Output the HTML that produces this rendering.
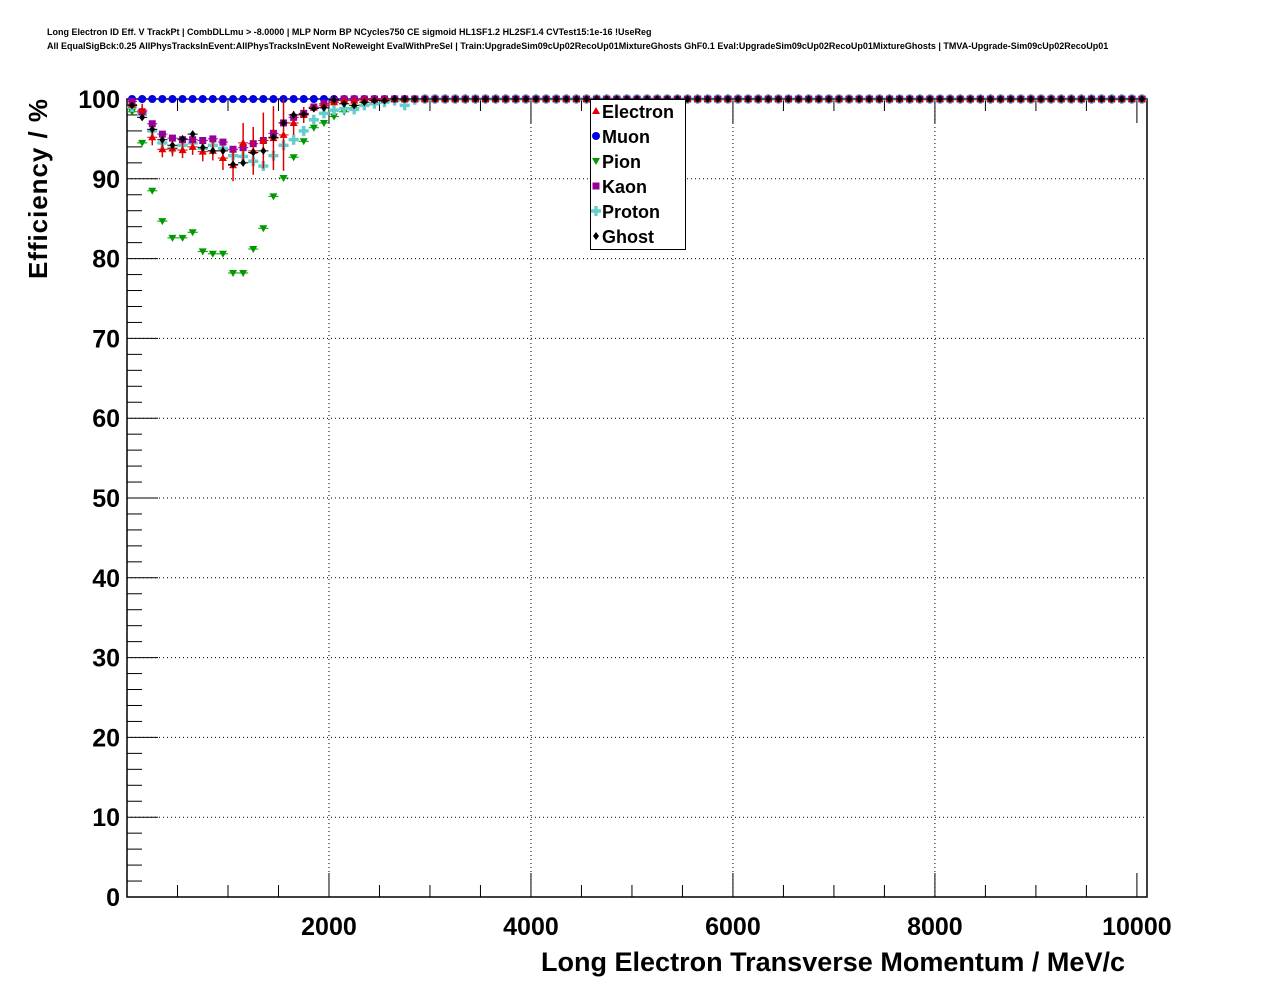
<!DOCTYPE html>
<html><head><meta charset="utf-8"><style>
body{margin:0;background:#fff;}
svg{display:block;font-family:"Liberation Sans",sans-serif;}
</style></head><body>
<svg id="c" width="1276" height="996">
<text x="47" y="35" font-size="9" font-weight="bold">Long Electron ID Eff. V TrackPt | CombDLLmu &gt; -8.0000 | MLP Norm BP NCycles750 CE sigmoid HL1SF1.2 HL2SF1.4 CVTest15:1e-16 !UseReg</text>
<text x="47" y="49" font-size="9" font-weight="bold">All EqualSigBck:0.25 AllPhysTracksInEvent:AllPhysTracksInEvent NoReweight EvalWithPreSel | Train:UpgradeSim09cUp02RecoUp01MixtureGhosts GhF0.1 Eval:UpgradeSim09cUp02RecoUp01MixtureGhosts | TMVA-Upgrade-Sim09cUp02RecoUp01</text>
<g id="grid"></g>
<g id="axes"></g>
<g id="marks"></g>
<text transform="translate(47,279) rotate(-90)" font-size="26" font-weight="bold" textLength="180">Efficiency / %</text>
<text x="1125" y="971" font-size="27" font-weight="bold" text-anchor="end" textLength="584">Long Electron Transverse Momentum / MeV/c</text>
<g>
<rect x="590.5" y="99.5" width="95" height="150" fill="#fff" stroke="#000"/>
<g id="leg"></g>
</g>
</svg>
<script>
const xTicks=[2000,4000,6000,8000,10000];
const yTicks=[0,10,20,30,40,50,60,70,80,90,100];
const names=["Electron","Muon","Pion","Kaon","Proton","Ghost"];
const electron=[99.3,98.6,95.2,93.7,93.8,93.6,94.0,93.4,93.5,92.6,91.7,94.5,93.5,94.8,95.1,95.5,97.0,98.0,98.9,99.2,99.6,99.8,99.8,99.9,99.9,100,100,100,100,100,100,100,100,100,100,100,100,100,100,100,100,100,100,100,100,100,100,100,100,100,100,100,100,100,100,100,100,100,100,100,100,100,100,100,100,100,100,100,100,100,100,100,100,100,100,100,100,100,100,100,100,100,100,100,100,100,100,100,100,100,100,100,100,100,100,100,100,100,100,100,100];
const electronErr=[0.5,0.8,1,1,1,1,1,1.2,1.2,1.5,2,2.5,3,3.5,4,4.5,1.5,1,0.5,0.5];
const muon=[100,100,100,100,100,100,100,100,100,100,100,100,100,100,100,100,100,100,100,100,100,100,100,100,100,100,100,100,100,100,100,100,100,100,100,100,100,100,100,100,100,100,100,100,100,100,100,100,100,100,100,100,100,100,100,100,100,100,100,100,100,100,100,100,100,100,100,100,100,100,100,100,100,100,100,100,100,100,100,100,100,100,100,100,100,100,100,100,100,100,100,100,100,100,100,100,100,100,100,100,100];
const pion=[98.4,94.5,88.5,84.7,82.6,82.6,83.3,80.9,80.6,80.6,78.2,78.2,81.2,83.8,87.8,90.1,92.7,94.7,96.4,97.0,97.8,98.4,98.9,99.3,99.5,99.7,99.8,99.8,99.9,99.9,100,100,100,100,100,100,100,100,100,100,100,100,100,100,100,100,100,100,100,100,100,100,100,100,100,100,100,100,100,100,100,100,100,100,100,100,100,100,100,100,100,100,100,100,100,100,100,100,100,100,100,100,100,100,100,100,100,100,100,100,100,100,100,100,100,100,100,100,100,100,100];
const kaon=[99.7,98.4,96.9,95.6,95.1,94.9,94.9,94.8,95.0,94.6,93.7,93.9,94.4,94.8,95.7,97.0,97.7,98.2,99.0,99.4,99.8,100,100,100,100,100,100,100,100,100,100,100,100,100,100,100,100,100,100,100,100,100,100,100,100,100,100,100,100,100,100,100,100,100,100,100,100,100,100,100,100,100,100,100,100,100,100,100,100,100,100,100,100,100,100,100,100,100,100,100,100,100,100,100,100,100,100,100,100,100,100,100,100,100,100,100,100,100,100,100,100];
const proton=[99.0,98.1,96.0,94.5,93.8,94.2,94.5,93.8,94.2,93.8,92.9,92.8,92.2,91.6,92.9,94.2,94.9,96.0,97.4,98.2,98.6,98.8,98.7,99.2,99.4,99.6,99.8,99.2,99.9,100,100,100,100,100,100,100,100,100,100,100,100,100,100,100,100,100,100,100,100,100,100,100,100,100,100,100,100,100,100,100,100,100,100,100,100,100,100,100,100,100,100,100,100,100,100,100,100,100,100,100,100,100,100,100,100,100,100,100,100,100,100,100,100,100,100,100,100,100,100,100,100];
const ghost=[99.2,97.7,96.2,94.9,94.2,95.0,95.6,93.9,93.5,93.5,91.8,92.0,93.3,93.5,95.2,97.0,98.0,98.1,98.8,98.9,99.9,99.4,99.2,99.6,99.8,99.8,100,100,100,100,100,100,100,100,100,100,100,100,100,100,100,100,100,100,100,100,100,100,100,100,100,100,100,100,100,100,100,100,100,100,100,100,100,100,100,100,100,100,100,100,100,100,100,100,100,100,100,100,100,100,100,100,100,100,100,100,100,100,100,100,100,100,100,100,100,100,100,100,100,100,100];
const binWidth=100;
const L=127,R=1147,T=99,B=897,XMAX=10100;
const X=v=>L+(v/XMAX)*(R-L);
const Y=v=>B-(v/100)*(B-T);
const NS="http://www.w3.org/2000/svg";
function mk(tag,attrs,parent){const e=document.createElementNS(NS,tag);for(const k in attrs)e.setAttribute(k,attrs[k]);parent.appendChild(e);return e;}
const grid=document.getElementById('grid'),axes=document.getElementById('axes'),marks=document.getElementById('marks'),leg=document.getElementById('leg');
xTicks.forEach(t=>{if(t>=10000)return;const l=mk('line',{x1:X(t),x2:X(t),y1:T,y2:B,stroke:'#000','stroke-dasharray':'1,3'},grid);
});
yTicks.forEach(t=>{if(t===0||t===100)return;const l=mk('line',{x1:L,x2:R,y1:Y(t),y2:Y(t),stroke:'#000','stroke-dasharray':'1,3'},grid);
});
mk('rect',{x:L,y:T,width:R-L,height:B-T,fill:'none',stroke:'#000','stroke-width':1.5},axes);
for(let v=500;v<XMAX;v+=500){const maj=v%2000===0;const len=maj?24:12;
mk('line',{x1:X(v),x2:X(v),y1:B,y2:B-len,stroke:'#000'},axes);mk('line',{x1:X(v),x2:X(v),y1:T,y2:T+len,stroke:'#000'},axes);}
for(let v=2;v<100;v+=2){const maj=v%10===0;const len=maj?31:15;
mk('line',{x1:L,x2:L+len,y1:Y(v),y2:Y(v),stroke:'#000'},axes);}
xTicks.forEach(t=>{const e=mk('text',{x:X(t),y:935,'font-size':25,'font-weight':'bold','text-anchor':'middle'},axes);e.textContent=t;
});
yTicks.forEach(t=>{const e=mk('text',{x:120,y:Y(t)+9,'font-size':25,'font-weight':'bold','text-anchor':'end'},axes);e.textContent=t;
});
const colors=["#e00000","#0000e0","#009900","#990099","#66cccc","#000000"];
function marker(type,x,y,c,p){
 if(type===0)return mk('polygon',{points:`${x},${y-4} ${x-4},${y+3} ${x+4},${y+3}`,fill:c},p);
 if(type===1)return mk('circle',{cx:x,cy:y,r:4,fill:c},p);
 if(type===2)return mk('polygon',{points:`${x-4},${y-3} ${x+4},${y-3} ${x},${y+4}`,fill:c},p);
 if(type===3)return mk('rect',{x:x-3.5,y:y-3.5,width:7,height:7,fill:c},p);
 if(type===4)return mk('path',{d:`M${x-5},${y-1.7}h3.3v-3.3h3.4v3.3h3.3v3.4h-3.3v3.3h-3.4v-3.3h-3.3z`,fill:c},p);
 return mk('polygon',{points:`${x},${y-4} ${x+3},${y} ${x},${y+4} ${x-3},${y}`,fill:c},p);}
const series=[electron,muon,pion,kaon,proton,ghost];
const order=[1,2,4,3,0,5];
order.forEach(si=>{const g=mk('g',{},marks);
 series[si].forEach((v,i)=>{const cx=X(i*binWidth+binWidth/2),cy=Y(v);
  mk('line',{x1:X(i*binWidth),x2:X((i+1)*binWidth),y1:cy,y2:cy,stroke:colors[si]},g);
  if(si===0&&electronErr[i]){mk('line',{x1:cx,x2:cx,y1:Y(Math.min(100,v+electronErr[i])),y2:Y(v-electronErr[i]),stroke:colors[si],'stroke-width':1.5},g);}
  const m=marker(si,cx,cy,colors[si],g);});});
names.forEach((n,i)=>{const y=111+i*25;const m=marker(i,596,y,colors[i],leg);
 const t=mk('text',{x:602,y:y+7,'font-size':18,'font-weight':'bold'},leg);t.textContent=n;
 });
</script>
</body></html>
